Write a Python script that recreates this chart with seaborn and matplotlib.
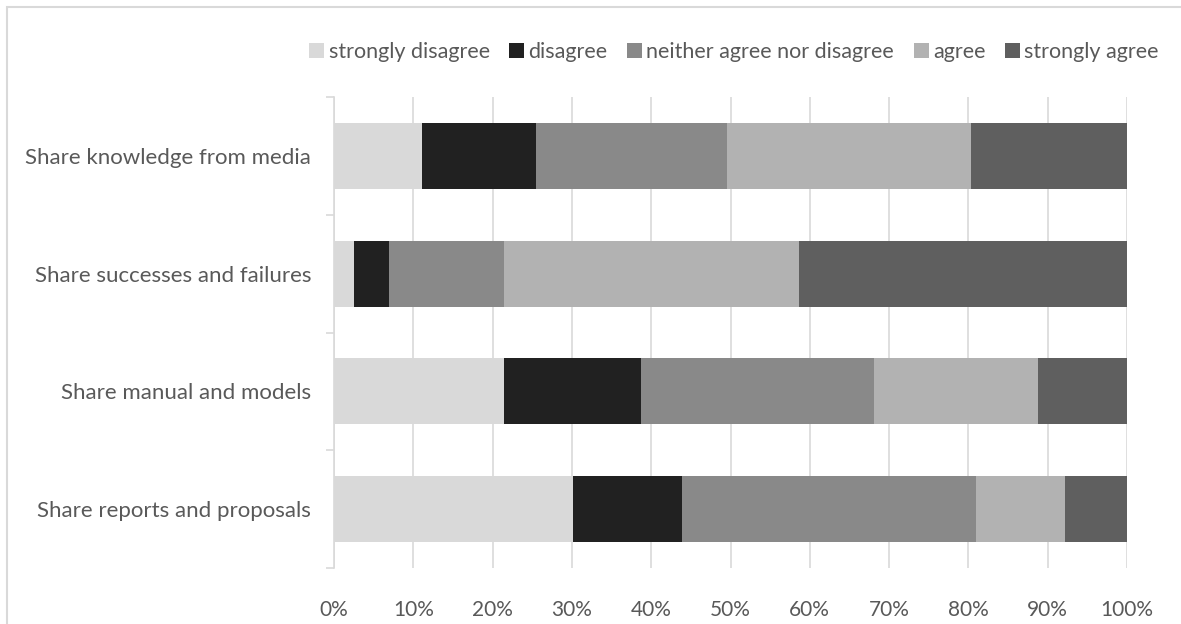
import matplotlib
matplotlib.use("Agg")
import matplotlib.pyplot as plt
import seaborn as sns
import numpy as np
import pandas as pd
from matplotlib.patches import Patch, Rectangle

categories = ["Share knowledge from media", "Share successes and failures",
              "Share manual and models", "Share reports and proposals"]
responses = ["strongly disagree", "disagree", "neither agree nor disagree",
             "agree", "strongly agree"]
strongly_disagree = [11.1, 2.5, 21.5, 30.2]
disagree = [14.4, 4.4, 17.2, 13.7]
neither = [24.0, 14.6, 29.4, 37.0]
agree = [30.8, 37.1, 20.7, 11.3]
strongly_agree = [19.7, 41.4, 11.2, 7.8]
xticks = [0, 10, 20, 30, 40, 50, 60, 70, 80, 90, 100]

colors = ["#D9D9D9", "#212121", "#898989", "#B2B2B2", "#5F5F5F"]
text_color = "#595959"
grid_color = "#D9D9D9"

sns.set_theme(style="white")
plt.rcParams["font.family"] = ["Lato", "DejaVu Sans"]

series = [strongly_disagree, disagree, neither, agree, strongly_agree]
arr = np.array(series, dtype=float)
totals = arr.sum(axis=0)
pct = arr / totals * 100
cum = np.cumsum(pct, axis=0)

fig = plt.figure(figsize=(11.81, 6.24), dpi=100)
W, H = 1181, 624
ax = fig.add_axes([334 / W, 1 - 568 / H, (1127 - 334) / W, (568 - 97) / H])

# stacked bars: draw cumulative totals from largest to smallest
for i in range(len(responses) - 1, -1, -1):
    df = pd.DataFrame({"category": categories, "value": cum[i]})
    sns.barplot(data=df, x="value", y="category", orient="h", color=colors[i],
                width=0.56, linewidth=0, saturation=1, ax=ax, zorder=2)

ax.set_xlim(0, 100)
ax.set_ylim(3.5, -0.5)
ax.set_xticks(xticks)
ax.set_xticklabels([f"{t}%" for t in xticks])
ax.set_xlabel("")
ax.set_ylabel("")
ax.grid(axis="x", color=grid_color, linewidth=1.2, zorder=0)
ax.set_axisbelow(True)
for s in ["top", "right", "bottom"]:
    ax.spines[s].set_visible(False)
ax.spines["left"].set_color(grid_color)
ax.spines["left"].set_linewidth(1.2)
ax.set_yticks(np.arange(-0.5, 4, 1), minor=True)
ax.tick_params(axis="y", which="minor", length=6, color=grid_color, width=1.2, left=True)
ax.tick_params(axis="y", which="major", length=0, pad=16.5, labelsize=16, labelcolor=text_color)
ax.tick_params(axis="x", which="major", length=0, pad=23, labelsize=15, labelcolor=text_color)

handles = [Patch(facecolor=c, edgecolor="none") for c in colors]
fig.legend(handles, responses, loc="center", bbox_to_anchor=(734 / W, 1 - 52 / H),
           ncol=5, frameon=False, fontsize=15.5, labelcolor=text_color,
           handlelength=0.7, handleheight=0.7, handletextpad=0.2, columnspacing=0.9)

# outer chart border
fig.patches.append(Rectangle((7 / W, -0.1), 1.2, 1 - 7 / H + 0.1, transform=fig.transFigure,
                             fill=False, edgecolor="#D9D9D9", linewidth=1.5))

fig.savefig("out.png", dpi=100)
